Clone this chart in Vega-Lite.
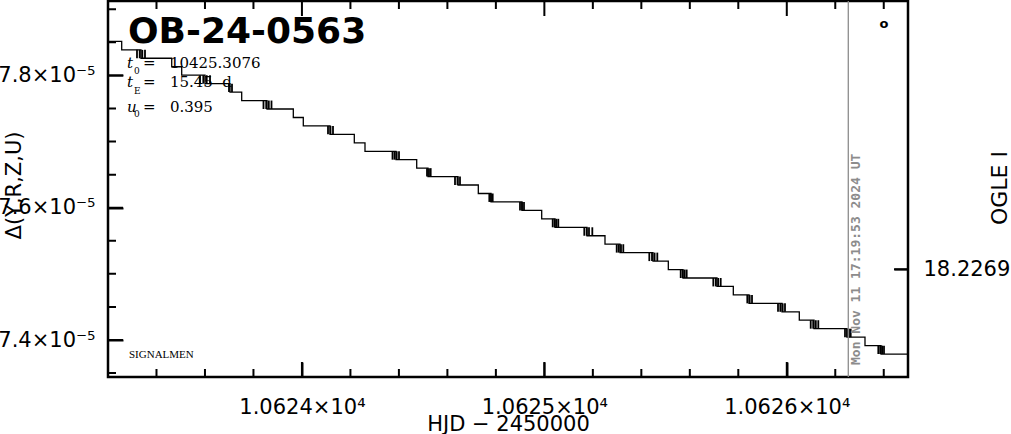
{
  "$schema": "https://vega.github.io/schema/vega-lite/v6.json",
  "width": 800,
  "height": 376,
  "autosize": {"type": "none"},
  "padding": {"left": 108, "top": 1, "right": 103, "bottom": 57},
  "background": "white",
  "config": {
    "view": {"stroke": "black", "strokeWidth": 2.5},
    "axis": {
      "domain": false, "grid": false, "ticks": true,
      "labelFont": "DejaVu Sans", "labelFontSize": 21, "labelColor": "black",
      "titleFont": "DejaVu Sans", "titleFontSize": 21, "titleFontWeight": "normal", "titleColor": "black",
      "tickColor": "black", "tickWidth": 2, "labelOverlap": false, "labelFlush": false
    }
  },
  "resolve": {"axis": {"x": "independent", "y": "independent"}},
  "layer": [
    {
      "data": {"values": [
        {"t": 10623.2, "d": 7.8514e-5}, {"t": 10623.2565, "d": 7.8386e-5}, {"t": 10623.3361, "d": 7.8259e-5},
        {"t": 10623.4628, "d": 7.8131e-5}, {"t": 10623.504, "d": 7.8003e-5}, {"t": 10623.6001, "d": 7.7875e-5},
        {"t": 10623.7033, "d": 7.7748e-5}, {"t": 10623.7515, "d": 7.762e-5}, {"t": 10623.8559, "d": 7.7492e-5},
        {"t": 10623.9644, "d": 7.7364e-5}, {"t": 10624.0056, "d": 7.7237e-5}, {"t": 10624.1158, "d": 7.7109e-5},
        {"t": 10624.216, "d": 7.6981e-5}, {"t": 10624.2601, "d": 7.6853e-5}, {"t": 10624.388, "d": 7.6726e-5},
        {"t": 10624.4734, "d": 7.6598e-5}, {"t": 10624.52, "d": 7.647e-5}, {"t": 10624.6438, "d": 7.6343e-5},
        {"t": 10624.7275, "d": 7.6215e-5}, {"t": 10624.7799, "d": 7.6087e-5}, {"t": 10624.9078, "d": 7.5959e-5},
        {"t": 10624.989, "d": 7.5832e-5}, {"t": 10625.0439, "d": 7.5704e-5}, {"t": 10625.1759, "d": 7.5576e-5},
        {"t": 10625.2501, "d": 7.5448e-5}, {"t": 10625.312, "d": 7.5321e-5}, {"t": 10625.4481, "d": 7.5193e-5},
        {"t": 10625.5113, "d": 7.5065e-5}, {"t": 10625.5719, "d": 7.4937e-5}, {"t": 10625.7121, "d": 7.481e-5},
        {"t": 10625.7794, "d": 7.4682e-5}, {"t": 10625.8441, "d": 7.4554e-5}, {"t": 10625.9803, "d": 7.4426e-5},
        {"t": 10626.0516, "d": 7.4299e-5}, {"t": 10626.1123, "d": 7.4171e-5}, {"t": 10626.2484, "d": 7.4043e-5},
        {"t": 10626.3226, "d": 7.3915e-5}, {"t": 10626.3887, "d": 7.3788e-5}, {"t": 10626.5, "d": 7.3788e-5}
      ]},
      "mark": {"type": "line", "interpolate": "step-after", "color": "black", "strokeWidth": 1.3, "clip": true},
      "encoding": {
        "x": {
          "field": "t", "type": "quantitative",
          "scale": {"domain": [10623.2, 10626.5], "zero": false, "nice": false},
          "axis": {
            "orient": "bottom", "values": [10624, 10625, 10626],
            "offset": -15, "tickSize": 15, "labelPadding": 19,
            "labelExpr": "format(datum.value/10000, '.4f') + '×10⁴'",
            "title": "HJD − 2450000",
            "titleX": 400, "titleY": 68, "titleBaseline": "alphabetic"
          }
        },
        "y": {
          "field": "d", "type": "quantitative",
          "scale": {"domain": [7.34407e-5, 7.91248e-5], "zero": false, "nice": false},
          "axis": {
            "orient": "left", "values": [7.4e-5, 7.6e-5, 7.8e-5],
            "offset": -15, "tickSize": 15, "labelPadding": 13,
            "labelExpr": "format(datum.value*1e5, '.1f') + '×10⁻⁵'",
            "title": "Δ(Y,R,Z,U)",
            "titleAngle": 270, "titleX": -109, "titleY": 184, "titleBaseline": "middle"
          }
        }
      }
    },
    {
      "data": {"values": [
        {"t": 10623.3196, "d": 7.8386e-5, "d2": 7.8259e-5}, {"t": 10623.3308, "d": 7.8386e-5, "d2": 7.8259e-5}, {"t": 10623.3415, "d": 7.8386e-5, "d2": 7.8259e-5}, {"t": 10623.3526, "d": 7.8386e-5, "d2": 7.8259e-5},
        {"t": 10623.5795, "d": 7.8003e-5, "d2": 7.7875e-5}, {"t": 10623.5931, "d": 7.8003e-5, "d2": 7.7875e-5}, {"t": 10623.6072, "d": 7.8003e-5, "d2": 7.7875e-5}, {"t": 10623.6208, "d": 7.8003e-5, "d2": 7.7875e-5},
        {"t": 10623.6991, "d": 7.7875e-5, "d2": 7.7748e-5}, {"t": 10623.7115, "d": 7.7875e-5, "d2": 7.7748e-5},
        {"t": 10623.8414, "d": 7.762e-5, "d2": 7.7492e-5}, {"t": 10623.8526, "d": 7.762e-5, "d2": 7.7492e-5}, {"t": 10623.8633, "d": 7.762e-5, "d2": 7.7492e-5}, {"t": 10623.8744, "d": 7.762e-5, "d2": 7.7492e-5},
        {"t": 10624.1075, "d": 7.7237e-5, "d2": 7.7109e-5}, {"t": 10624.1178, "d": 7.7237e-5, "d2": 7.7109e-5}, {"t": 10624.1281, "d": 7.7237e-5, "d2": 7.7109e-5},
        {"t": 10624.3736, "d": 7.6853e-5, "d2": 7.6726e-5}, {"t": 10624.3818, "d": 7.6853e-5, "d2": 7.6726e-5}, {"t": 10624.3909, "d": 7.6853e-5, "d2": 7.6726e-5}, {"t": 10624.4004, "d": 7.6853e-5, "d2": 7.6726e-5},
        {"t": 10624.5159, "d": 7.6598e-5, "d2": 7.647e-5}, {"t": 10624.5241, "d": 7.6598e-5, "d2": 7.647e-5}, {"t": 10624.5311, "d": 7.6598e-5, "d2": 7.647e-5},
        {"t": 10624.6314, "d": 7.647e-5, "d2": 7.6343e-5}, {"t": 10624.6417, "d": 7.647e-5, "d2": 7.6343e-5}, {"t": 10624.652, "d": 7.647e-5, "d2": 7.6343e-5},
        {"t": 10624.7729, "d": 7.6215e-5, "d2": 7.6087e-5}, {"t": 10624.7799, "d": 7.6215e-5, "d2": 7.6087e-5}, {"t": 10624.7869, "d": 7.6215e-5, "d2": 7.6087e-5},
        {"t": 10624.8995, "d": 7.6087e-5, "d2": 7.5959e-5}, {"t": 10624.9078, "d": 7.6087e-5, "d2": 7.5959e-5}, {"t": 10624.916, "d": 7.6087e-5, "d2": 7.5959e-5},
        {"t": 10625.0344, "d": 7.5832e-5, "d2": 7.5704e-5}, {"t": 10625.0423, "d": 7.5832e-5, "d2": 7.5704e-5}, {"t": 10625.0497, "d": 7.5832e-5, "d2": 7.5704e-5}, {"t": 10625.0575, "d": 7.5832e-5, "d2": 7.5704e-5},
        {"t": 10625.1647, "d": 7.5704e-5, "d2": 7.5576e-5}, {"t": 10625.1746, "d": 7.5704e-5, "d2": 7.5576e-5}, {"t": 10625.1841, "d": 7.5704e-5, "d2": 7.5576e-5}, {"t": 10625.1978, "d": 7.5704e-5, "d2": 7.5576e-5},
        {"t": 10625.2984, "d": 7.5448e-5, "d2": 7.5321e-5}, {"t": 10625.3066, "d": 7.5448e-5, "d2": 7.5321e-5}, {"t": 10625.3161, "d": 7.5448e-5, "d2": 7.5321e-5}, {"t": 10625.3256, "d": 7.5448e-5, "d2": 7.5321e-5},
        {"t": 10625.4329, "d": 7.5321e-5, "d2": 7.5193e-5}, {"t": 10625.444, "d": 7.5321e-5, "d2": 7.5193e-5}, {"t": 10625.4547, "d": 7.5321e-5, "d2": 7.5193e-5}, {"t": 10625.4659, "d": 7.5321e-5, "d2": 7.5193e-5},
        {"t": 10625.5624, "d": 7.5065e-5, "d2": 7.4937e-5}, {"t": 10625.5706, "d": 7.5065e-5, "d2": 7.4937e-5}, {"t": 10625.5789, "d": 7.5065e-5, "d2": 7.4937e-5}, {"t": 10625.5871, "d": 7.5065e-5, "d2": 7.4937e-5},
        {"t": 10625.6969, "d": 7.4937e-5, "d2": 7.481e-5}, {"t": 10625.7072, "d": 7.4937e-5, "d2": 7.481e-5}, {"t": 10625.7171, "d": 7.4937e-5, "d2": 7.481e-5}, {"t": 10625.7274, "d": 7.4937e-5, "d2": 7.481e-5},
        {"t": 10625.8371, "d": 7.4682e-5, "d2": 7.4554e-5}, {"t": 10625.847, "d": 7.4682e-5, "d2": 7.4554e-5}, {"t": 10625.8565, "d": 7.4682e-5, "d2": 7.4554e-5},
        {"t": 10625.9638, "d": 7.4554e-5, "d2": 7.4426e-5}, {"t": 10625.9732, "d": 7.4554e-5, "d2": 7.4426e-5}, {"t": 10625.9831, "d": 7.4554e-5, "d2": 7.4426e-5}, {"t": 10625.9926, "d": 7.4554e-5, "d2": 7.4426e-5},
        {"t": 10626.0987, "d": 7.4299e-5, "d2": 7.4171e-5}, {"t": 10626.109, "d": 7.4299e-5, "d2": 7.4171e-5}, {"t": 10626.1197, "d": 7.4299e-5, "d2": 7.4171e-5}, {"t": 10626.13, "d": 7.4299e-5, "d2": 7.4171e-5},
        {"t": 10626.2401, "d": 7.4171e-5, "d2": 7.4043e-5}, {"t": 10626.2484, "d": 7.4171e-5, "d2": 7.4043e-5}, {"t": 10626.2566, "d": 7.4171e-5, "d2": 7.4043e-5}, {"t": 10626.2636, "d": 7.4171e-5, "d2": 7.4043e-5},
        {"t": 10626.3775, "d": 7.3915e-5, "d2": 7.3788e-5}, {"t": 10626.3853, "d": 7.3915e-5, "d2": 7.3788e-5}, {"t": 10626.3932, "d": 7.3915e-5, "d2": 7.3788e-5}, {"t": 10626.401, "d": 7.3915e-5, "d2": 7.3788e-5}
      ]},
      "mark": {"type": "rule", "color": "black", "strokeWidth": 1.8},
      "encoding": {
        "x": {"field": "t", "type": "quantitative", "scale": {"domain": [10623.2, 10626.5], "zero": false, "nice": false}, "axis": null},
        "y": {"field": "d", "type": "quantitative", "scale": {"domain": [7.34407e-5, 7.91248e-5], "zero": false, "nice": false}, "axis": null},
        "y2": {"field": "d2"}
      }
    },
    {
      "data": {"values": [{"t": 10624}, {"t": 10625}, {"t": 10626}]},
      "mark": {"type": "rule", "strokeWidth": 2, "color": "black", "strokeDash": [15, 346]},
      "encoding": {
        "x": {"field": "t", "type": "quantitative", "scale": {"domain": [10623.2, 10626.5], "zero": false, "nice": false}, "axis": null}
      }
    },
    {
      "data": {"values": [{"t": 10623.2}, {"t": 10623.4}, {"t": 10623.6}, {"t": 10623.8}, {"t": 10624.2}, {"t": 10624.4}, {"t": 10624.6}, {"t": 10624.8}, {"t": 10625.2}, {"t": 10625.4}, {"t": 10625.6}, {"t": 10625.8}, {"t": 10626.2}, {"t": 10626.4}]},
      "mark": {"type": "rule", "strokeWidth": 2, "color": "black", "strokeDash": [8, 360]},
      "encoding": {
        "x": {"field": "t", "type": "quantitative", "scale": {"domain": [10623.2, 10626.5], "zero": false, "nice": false}, "axis": null}
      }
    },
    {
      "data": {"values": [{"d": 7.4e-5}, {"d": 7.6e-5}, {"d": 7.8e-5}]},
      "mark": {"type": "rule", "strokeWidth": 2, "color": "black", "strokeDash": [0, 785, 15, 0]},
      "encoding": {
        "y": {"field": "d", "type": "quantitative", "scale": {"domain": [7.34407e-5, 7.91248e-5], "zero": false, "nice": false}, "axis": null}
      }
    },
    {
      "data": {"values": [{"d": 7.35e-5}, {"d": 7.45e-5}, {"d": 7.5e-5}, {"d": 7.55e-5}, {"d": 7.65e-5}, {"d": 7.7e-5}, {"d": 7.75e-5}, {"d": 7.85e-5}, {"d": 7.9e-5}]},
      "mark": {"type": "rule", "strokeWidth": 2, "color": "black", "strokeDash": [0, 792, 8, 0]},
      "encoding": {
        "y": {"field": "d", "type": "quantitative", "scale": {"domain": [7.34407e-5, 7.91248e-5], "zero": false, "nice": false}, "axis": null}
      }
    },
    {
      "data": {"values": [{"d": 7.50688e-5, "mag": 18.2269}]},
      "mark": {"type": "rule", "strokeWidth": 2, "color": "black", "strokeDash": [14, 800]},
      "encoding": {
        "y": {
          "field": "d", "type": "quantitative",
          "scale": {"domain": [7.34407e-5, 7.91248e-5], "zero": false, "nice": false},
          "axis": {
            "orient": "right", "values": [7.50688e-5],
            "labelExpr": "'18.2269'",
            "offset": -14, "tickSize": 14, "labelPadding": 15,
            "title": "OGLE I", "titleFontSize": 22,
            "titleAngle": 270, "titleX": 105, "titleY": 186.5, "titleBaseline": "middle"
          }
        }
      }
    },
    {
      "data": {"values": [{"t": 10626.2537}]},
      "mark": {"type": "rule", "color": "#8c8c8c", "strokeWidth": 1.3},
      "encoding": {
        "x": {"field": "t", "type": "quantitative", "scale": {"domain": [10623.2, 10626.5], "zero": false, "nice": false}, "axis": null}
      }
    },
    {
      "data": {"values": [{"t": 10626.2537, "d": 7.36221e-5, "txt": "Mon Nov 11 17:19:53 2024 UT"}]},
      "mark": {"type": "text", "angle": 270, "align": "left", "baseline": "top", "dy": 2, "font": "DejaVu Sans Mono", "fontWeight": "bold", "fontSize": 13, "color": "#8c8c8c"},
      "encoding": {
        "x": {"field": "t", "type": "quantitative", "scale": {"domain": [10623.2, 10626.5], "zero": false, "nice": false}, "axis": null},
        "y": {"field": "d", "type": "quantitative", "scale": {"domain": [7.34407e-5, 7.91248e-5], "zero": false, "nice": false}, "axis": null},
        "text": {"field": "txt"}
      }
    },
    {
      "data": {"values": [{"t": 10623.2825, "d": 7.84898e-5, "txt": "OB-24-0563"}]},
      "mark": {"type": "text", "align": "left", "baseline": "alphabetic", "font": "DejaVu Sans", "fontWeight": "bold", "fontSize": 36, "color": "black"},
      "encoding": {
        "x": {"field": "t", "type": "quantitative", "scale": {"domain": [10623.2, 10626.5], "zero": false, "nice": false}, "axis": null},
        "y": {"field": "d", "type": "quantitative", "scale": {"domain": [7.34407e-5, 7.91248e-5], "zero": false, "nice": false}, "axis": null},
        "text": {"field": "txt"}
      }
    },
    {
      "data": {"values": [
        {"t": 10623.2784, "d": 7.81074e-5, "txt": "t"},
        {"t": 10623.2784, "d": 7.78224e-5, "txt": "t"},
        {"t": 10623.2784, "d": 7.74513e-5, "txt": "u"}
      ]},
      "mark": {"type": "text", "align": "left", "baseline": "alphabetic", "font": "DejaVu Serif", "fontStyle": "italic", "fontSize": 15, "color": "black"},
      "encoding": {
        "x": {"field": "t", "type": "quantitative", "scale": {"domain": [10623.2, 10626.5], "zero": false, "nice": false}, "axis": null},
        "y": {"field": "d", "type": "quantitative", "scale": {"domain": [7.34407e-5, 7.91248e-5], "zero": false, "nice": false}, "axis": null},
        "text": {"field": "txt"}
      }
    },
    {
      "data": {"values": [
        {"t": 10623.3073, "d": 7.80212e-5, "txt": "0"},
        {"t": 10623.3073, "d": 7.77143e-5, "txt": "E"},
        {"t": 10623.3073, "d": 7.73757e-5, "txt": "0"}
      ]},
      "mark": {"type": "text", "align": "left", "baseline": "alphabetic", "font": "DejaVu Serif", "fontSize": 9, "color": "black"},
      "encoding": {
        "x": {"field": "t", "type": "quantitative", "scale": {"domain": [10623.2, 10626.5], "zero": false, "nice": false}, "axis": null},
        "y": {"field": "d", "type": "quantitative", "scale": {"domain": [7.34407e-5, 7.91248e-5], "zero": false, "nice": false}, "axis": null},
        "text": {"field": "txt"}
      }
    },
    {
      "data": {"values": [
        {"t": 10623.3444, "d": 7.81074e-5, "txt": "=\u00a0\u00a0\u00a010425.3076"},
        {"t": 10623.3444, "d": 7.78224e-5, "txt": "=\u00a0\u00a0\u00a015.45\u00a0\u00a0d"},
        {"t": 10623.3444, "d": 7.74513e-5, "txt": "=\u00a0\u00a0\u00a00.395"}
      ]},
      "mark": {"type": "text", "align": "left", "baseline": "alphabetic", "font": "DejaVu Serif", "fontSize": 15, "color": "black"},
      "encoding": {
        "x": {"field": "t", "type": "quantitative", "scale": {"domain": [10623.2, 10626.5], "zero": false, "nice": false}, "axis": null},
        "y": {"field": "d", "type": "quantitative", "scale": {"domain": [7.34407e-5, 7.91248e-5], "zero": false, "nice": false}, "axis": null},
        "text": {"field": "txt"}
      }
    },
    {
      "data": {"values": [{"t": 10623.2866, "d": 7.37279e-5, "txt": "SIGNALMEN"}]},
      "mark": {"type": "text", "align": "left", "baseline": "alphabetic", "font": "Liberation Serif", "fontSize": 11, "color": "black"},
      "encoding": {
        "x": {"field": "t", "type": "quantitative", "scale": {"domain": [10623.2, 10626.5], "zero": false, "nice": false}, "axis": null},
        "y": {"field": "d", "type": "quantitative", "scale": {"domain": [7.34407e-5, 7.91248e-5], "zero": false, "nice": false}, "axis": null},
        "text": {"field": "txt"}
      }
    },
    {
      "data": {"values": [{"t": 10626.401, "d": 7.87846e-5, "txt": "o"}]},
      "mark": {"type": "text", "align": "center", "baseline": "middle", "font": "DejaVu Sans", "fontWeight": "bold", "fontSize": 13, "color": "black"},
      "encoding": {
        "x": {"field": "t", "type": "quantitative", "scale": {"domain": [10623.2, 10626.5], "zero": false, "nice": false}, "axis": null},
        "y": {"field": "d", "type": "quantitative", "scale": {"domain": [7.34407e-5, 7.91248e-5], "zero": false, "nice": false}, "axis": null},
        "text": {"field": "txt"}
      }
    }
  ]
}
